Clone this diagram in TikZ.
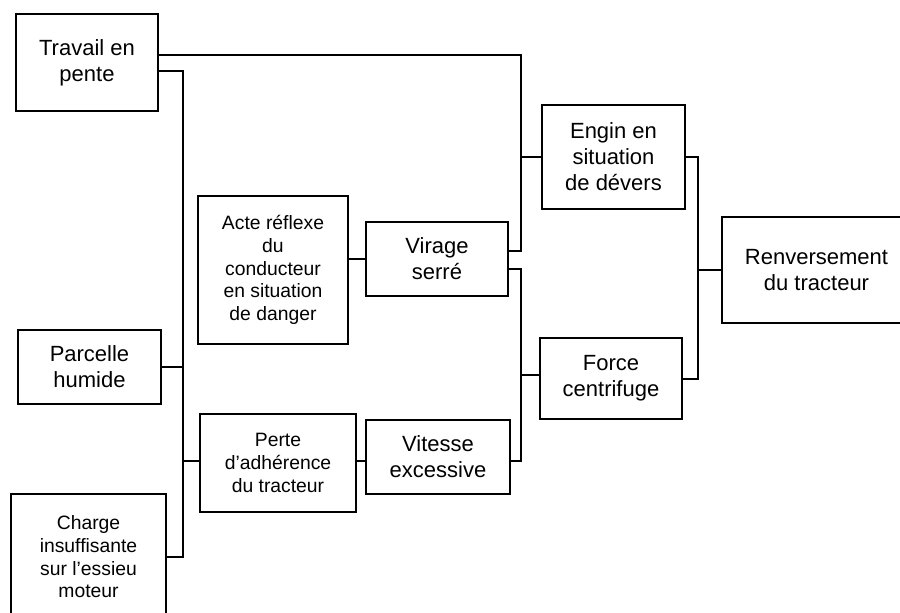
\documentclass[tikz,border=0pt]{standalone}
\usepackage{fontspec}
\setmainfont{Liberation Sans}
\tikzset{
    boite/.style={draw, line width=1.5pt, align=center, inner sep=0pt},
    gros/.style={font=\fontsize{16.5}{19.5}\selectfont},
    petit/.style={font=\fontsize{14.5}{17}\selectfont},
    lien/.style={line width=1.5pt}
}
\begin{document}
\begin{tikzpicture}[x=0.75pt, y=-0.75pt] % 1 unité = 1 pixel de l'image

    \useasboundingbox (0,0) rectangle (900,612);

    % 1. causes de gauche (colonne 1)
    \node[boite, gros, minimum width=106.5pt, minimum height=72.75pt] (travail) at (87,62.5) {Travail en\\pente};
    \node[boite, gros, minimum width=107.25pt, minimum height=55.5pt] (parcelle) at (89.5,367) {Parcelle\\humide};
    \node[boite, petit, minimum width=116.25pt, minimum height=94.5pt] (charge) at (88.5,557) {Charge\\insuffisante\\sur l’essieu\\moteur};

    % 2. causes intermédiaires (colonne 2 et 3)
    \node[boite, petit, minimum width=112.5pt, minimum height=111pt] (acte) at (273,270) {Acte réflexe\\du\\conducteur\\en situation\\de danger};
    \node[boite, petit, minimum width=117pt, minimum height=73.5pt] (perte) at (278,463) {Perte\\d’adhérence\\du tracteur};
    \node[boite, gros, minimum width=106.5pt, minimum height=55.5pt] (virage) at (437,259) {Virage\\serré};
    \node[boite, gros, minimum width=108pt, minimum height=55.5pt] (vitesse) at (438,457) {Vitesse\\excessive};

    % 3. colonne 4 et événement final
    \node[boite, gros, minimum width=107.25pt, minimum height=78pt] (engin) at (613.5,157) {Engin en\\situation\\de dévers};
    \node[boite, gros, minimum width=106.5pt, minimum height=60.75pt] (force) at (611,378.5) {Force\\centrifuge};
    \node[boite, gros, minimum width=141.75pt, minimum height=79.5pt] (renversement) at (816.5,270) {Renversement\\du tracteur};

    % 4. barres verticales de liaison
    \coordinate (busG) at (183,0);
    \coordinate (busM) at (521,0);
    \coordinate (busD) at (698,0);

    % liaisons colonne 1 -> perte d'adhérence
    \draw[lien] ([yshift=-6pt]travail.east) -| (busG |- charge.east) -- (charge.east);
    \draw[lien] (parcelle.east) -- (parcelle.east -| busG);
    \draw[lien] ([yshift=1.5pt]perte.west -| busG) -- ([yshift=1.5pt]perte.west);

    % liaisons vers virage et vitesse
    \draw[lien] (virage.west) -- (virage.west -| acte.east);
    \draw[lien] ([yshift=-3pt]vitesse.west) -- ([yshift=-3pt]vitesse.west -| perte.east);

    % liaisons vers engin en dévers et force centrifuge
    \draw[lien] ([yshift=6pt]travail.east) -| ([yshift=6pt]virage.east -| busM) -- ([yshift=6pt]virage.east);
    \draw[lien] (engin.west -| busM) -- (engin.west);
    \draw[lien] ([yshift=-7.5pt]virage.east) -| ([yshift=-3pt]vitesse.east -| busM) -- ([yshift=-3pt]vitesse.east);
    \draw[lien] ([yshift=2.5pt]force.west -| busM) -- ([yshift=2.5pt]force.west);

    % 5. vers le renversement
    \draw[lien] (engin.east) -| (busD |- force.east) -- (force.east);
    \draw[lien] (renversement.west -| busD) -- (renversement.west);

\end{tikzpicture}
\end{document}
